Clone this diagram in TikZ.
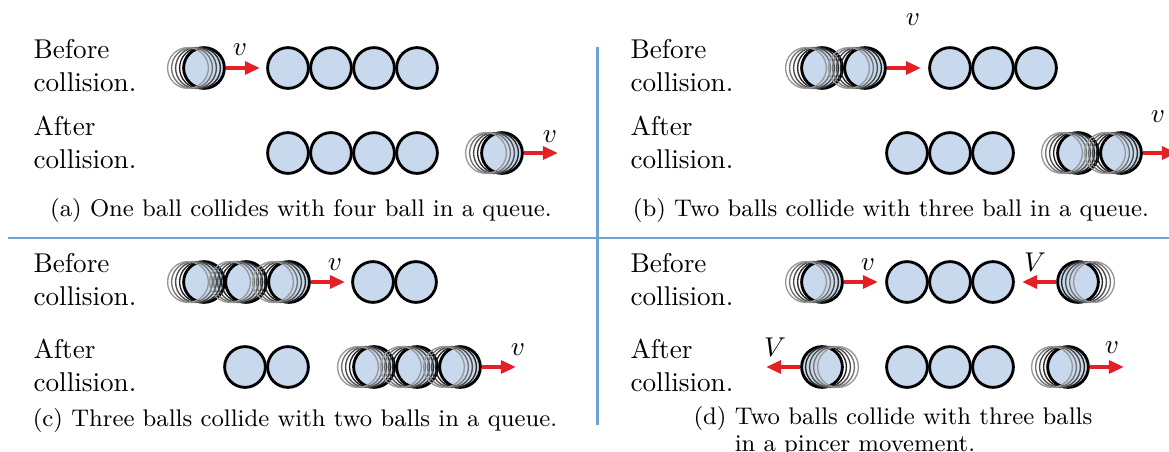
\documentclass[tikz,border=0pt]{standalone}
\usetikzlibrary{arrows.meta,calc}

\definecolor{ballblue}{RGB}{200,217,238}
\definecolor{pushred}{RGB}{228,32,38}
\definecolor{ruleblue}{RGB}{111,163,216}

\tikzset{
  ball/.style={circle, draw, line width=1.05pt, fill=ballblue, minimum size=15pt, inner sep=0pt},
  ghost/.style={line width=0.5pt},
  push/.style={draw=pushred, line width=1.2pt, -{Triangle[length=5.5pt,width=4.8pt]}},
  say/.style={align=left, anchor=north west, inner sep=0pt},
  subcap/.style={anchor=base, inner sep=0pt, font=\fontsize{8.85}{10.5}\selectfont},
  lbl/.style={inner sep=0pt},
  rule/.style={draw=ruleblue, line width=1.1pt}
}

% faded copies left behind by a moving ball: #1 node, #2 side (-1 left, 1 right)
\newcommand{\trail}[2]{%
  \foreach \k/\g in {1/85,2/70,3/55,4/40}
    \draw[ghost, black!\g] ($(#1)+(#2*4*\k,0)$) circle[radius=20.4];}

\begin{document}
\begin{tikzpicture}[x=0.368pt, y=-0.368pt]
  \useasboundingbox (0,0) rectangle (1169,452);

  % dividers
  \coordinate (h1) at (8,238);
  \coordinate (h2) at (1169,238);
  \coordinate (v1) at (597,47);
  \coordinate (v2) at (597,425);
  \draw[rule] (h1) -- (h2);
  \draw[rule] (v1) -- (v2);

  % (a) one ball hits four
  \node[say] (a1) at (33,39) {Before\\collision.};
  \node[say] (a2) at (33,116) {After\\collision.};
  \node[ball] (am) at (204,68) {};
  \foreach \x [count=\i] in {288,331,374,417} \node[ball] (aq\i) at (\x,68) {};
  \foreach \x [count=\i] in {288,331,374,417} \node[ball] (ar\i) at (\x,153) {};
  \node[ball] (an) at (502,153) {};
  \trail{am}{-1} \trail{an}{-1}
  \draw[push] (am.east) -- ++(34,0) coordinate (ae1);
  \draw[push] (an.east) -- ++(34,0) coordinate (ae2);
  \node[lbl] (av1) at (240,50) {$v$};
  \node[lbl] (av2) at (550,137) {$v$};
  \node[subcap] (ca) at (301,217) {(a) One ball collides with four ball in a queue.};

  % (b) two balls hit three
  \node[say] (b1) at (630,39) {Before\\collision.};
  \node[say] (b2) at (630,116) {After\\collision.};
  \node[ball] (bm1) at (822,68) {};
  \node[ball] (bm2) at (865,68) {};
  \foreach \x [count=\i] in {950,993,1036} \node[ball] (bq\i) at (\x,68) {};
  \foreach \x [count=\i] in {907,950,993} \node[ball] (br\i) at (\x,153) {};
  \node[ball] (bn1) at (1078,153) {};
  \node[ball] (bn2) at (1121,153) {};
  \trail{bm1}{-1} \trail{bm2}{-1} \trail{bn1}{-1} \trail{bn2}{-1}
  \draw[push] (bm2.east) -- ++(34,0) coordinate (be1);
  \draw[push] (bn2.east) -- ++(34,0) coordinate (be2);
  \node[lbl] (bv1) at (913,20) {$v$};
  \node[lbl] (bv2) at (1158,117) {$v$};
  \node[subcap] (cb) at (891,217) {(b) Two balls collide with three ball in a queue.};

  % (c) three balls hit two
  \node[say] (c1) at (33,253) {Before\\collision.};
  \node[say] (c2) at (33,339) {After\\collision.};
  \foreach \x [count=\i] in {204,246,289} \node[ball] (cm\i) at (\x,282) {};
  \foreach \x [count=\i] in {373,416} \node[ball] (cq\i) at (\x,282) {};
  \foreach \x [count=\i] in {245,288} \node[ball] (cr\i) at (\x,367) {};
  \foreach \x [count=\i] in {374,417,460} \node[ball] (cn\i) at (\x,367) {};
  \trail{cm1}{-1} \trail{cm2}{-1} \trail{cm3}{-1}
  \trail{cn1}{-1} \trail{cn2}{-1} \trail{cn3}{-1}
  \draw[push] (cm3.east) -- ++(34,0) coordinate (ce1);
  \draw[push] (cn3.east) -- ++(34,0) coordinate (ce2);
  \node[lbl] (cv1) at (335,265) {$v$};
  \node[lbl] (cv2) at (518,350) {$v$};
  \node[subcap] (cc) at (295,427) {(c) Three balls collide with two balls in a queue.};

  % (d) pincer
  \node[say] (d1) at (630,253) {Before\\collision.};
  \node[say] (d2) at (630,339) {After\\collision.};
  \node[ball] (dl) at (822,282) {};
  \foreach \x [count=\i] in {907,950,993} \node[ball] (dq\i) at (\x,282) {};
  \node[ball] (dr) at (1078,282) {};
  \node[ball] (dk) at (822,367) {};
  \foreach \x [count=\i] in {907,950,993} \node[ball] (ds\i) at (\x,367) {};
  \node[ball] (dn) at (1068,367) {};
  \trail{dl}{-1} \trail{dr}{1} \trail{dk}{1} \trail{dn}{-1}
  \draw[push] (dl.east) -- ++(34,0) coordinate (de1);
  \draw[push] (dr.west) -- ++(-34,0) coordinate (de2);
  \draw[push] (dk.west) -- ++(-34,0) coordinate (de3);
  \draw[push] (dn.east) -- ++(34,0) coordinate (de4);
  \node[lbl] (dv1) at (868,265) {$v$};
  \node[lbl] (dv2) at (1035,262) {$V$};
  \node[lbl] (dv3) at (775,347) {$V$};
  \node[lbl] (dv4) at (1112,348) {$v$};
  \node[subcap, anchor=base west] (cd) at (693,425) {(d) \begin{tabular}[t]{@{}l@{}}Two balls collide with three balls\\[-0.8pt]in a pincer movement.\end{tabular}};
\end{tikzpicture}
\end{document}
